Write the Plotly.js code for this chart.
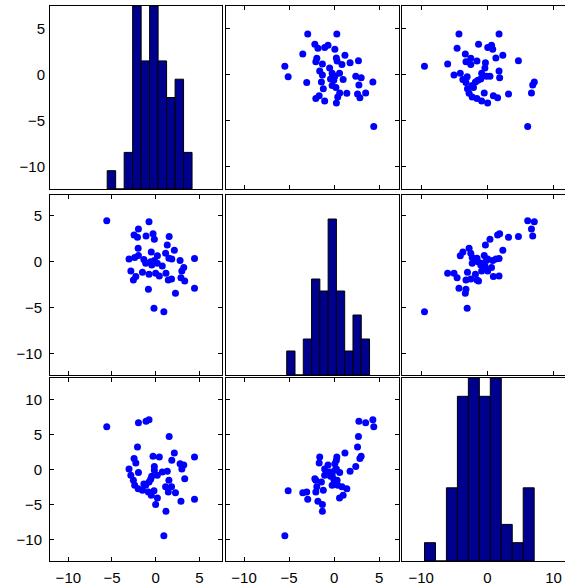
<!DOCTYPE html>
<html><head><meta charset="utf-8">
<script src="https://cdn.plot.ly/plotly-3.0.1.min.js"></script>
<style>html,body{margin:0;padding:0;overflow:hidden;background:#fff}</style>
</head><body><div id="chart" style="width:577px;height:587px"></div>
<script>
const x1 = [-5.6,-0.76,-1.97,-2.47,-2.08,-1.1,-0.3,-0.15,1.55,1.33,2.14,-2.0,-0.5,0.2,1.14,-3.05,-2.4,-1.97,1.52,1.85,2.8,4.45,-1.14,-0.57,-0.15,0.19,3.22,3.0,-2.84,-1.51,-0.76,0.0,0.42,1.18,-2.27,-2.55,1.45,1.82,2.9,3.33,-0.83,4.45,2.27,-0.19,0.94,0.76,-1.35,-0.45];
const x2 = [4.4,4.3,3.5,2.86,2.6,2.75,3.0,2.4,2.7,1.77,1.2,1.41,1.0,0.6,0.87,0.25,0.4,0.62,0.33,0.25,0.08,0.3,-0.22,-0.04,0.08,-0.22,-0.68,-1.05,-1.05,-1.2,-1.41,-1.3,-1.6,-1.3,-1.66,-2.03,-2.03,-1.92,-1.8,-2.14,-3.04,-2.93,-3.48,-5.1,-5.47,-0.5,0.2,-0.4];
const x3 = [6.1,7.1,6.67,1.55,3.2,6.86,1.86,0.4,4.7,-0.29,2.34,-2.76,-3.7,-4.09,-2.5,0.05,-2.29,-0.47,-1.57,1.29,0.81,1.77,-2.29,-1.43,-0.14,-0.86,0.63,0.06,-0.86,-3.0,-1.8,-5.04,1.77,-6.0,0.91,-1.57,-3.23,-2.5,-4.57,-1.33,-3.23,-4.29,-3.33,-3.05,-9.5,-0.37,-2.1,-1.0];

// histogram bin counts (10 bins each) and bin edges
const hist1Counts = [1,0,2,10,7,10,7,5,6,2];
const hist2Counts = [2,0,3,8,7,13,7,2,5,3];
const hist3Counts = [1,0,4,9,10,9,10,2,1,4];
const histStart = [-5.55, -5.26, -9.5];
const histBinWidth = [0.972, 0.919, 1.658];
const histMax = [10, 15, 10];

// tick labels
const ticksSmall = [-10,-5,0,5];
const ticksRow3 = [-10,-5,0,5,10];
const ticksCol3 = [-10,0,10];

// ---- layout geometry ----
const data = [x1, x2, x3];
const counts = [hist1Counts, hist2Counts, hist3Counts];
const colRange = [[-12.1, 7.6], [-12.0, 7.2], [-12.9, 13.1]];
const rowRange = [[-12.4, 7.5], [-12.35, 7.2], [-13.1, 13.05]];
const colDomain = [[0, 172/524], [176/524, 349/524], [352/524, 1]];
const rowDomain = [[(561-189)/555, 1], [(561-375)/555, (561-195)/555], [0, (561-378)/555]];
const xTicks = [ticksSmall, ticksSmall, ticksCol3];
const yTicks = [ticksSmall, ticksSmall, ticksRow3];

const font = {family: 'Liberation Sans, Arial, sans-serif', size: 15, color: '#000'};
const base = {
  showline: true, linecolor: '#000', linewidth: 1, mirror: 'ticks',
  ticks: 'inside', ticklen: 4, tickwidth: 1, tickcolor: '#000',
  showgrid: false, zeroline: false, tickfont: font, fixedrange: true,
  tickmode: 'array'
};

const traces = [];
const layout = {
  width: 577, height: 587,
  margin: {l: 50, r: 3, t: 6, b: 26},
  paper_bgcolor: '#fff', plot_bgcolor: '#fff',
  showlegend: false
};

for (let r = 0; r < 3; r++) {
  for (let c = 0; c < 3; c++) {
    const k = r * 3 + c + 1;
    const xn = k === 1 ? 'xaxis' : 'xaxis' + k;
    const yn = k === 1 ? 'yaxis' : 'yaxis' + k;
    const xr = k === 1 ? 'x' : 'x' + k;
    const yr = k === 1 ? 'y' : 'y' + k;
    const diag = r === c;
    layout[xn] = Object.assign({}, base, {
      domain: colDomain[c], anchor: yr, range: colRange[c],
      tickvals: xTicks[c], showticklabels: r === 2, ticklabelstandoff: 3
    });
    layout[yn] = Object.assign({}, base, {
      domain: rowDomain[r], anchor: xr,
      range: diag ? [0, histMax[r]] : rowRange[r],
      tickvals: yTicks[r], showticklabels: c === 0 && !diag, ticklabelstandoff: 4
    });
    if (diag) {
      layout[xn].ticks = ''; layout[xn].mirror = true;
      layout[yn].ticks = ''; layout[yn].mirror = true;
      layout[yn].showticklabels = false;
      const centers = counts[r].map((_, i) => histStart[r] + histBinWidth[r] * (i + 0.5));
      traces.push({
        type: 'bar', x: centers, y: counts[r], width: histBinWidth[r],
        xaxis: xr, yaxis: yr,
        marker: {color: '#00008f', line: {color: '#000', width: 1}},
        hoverinfo: 'skip'
      });
    } else {
      traces.push({
        type: 'scatter', mode: 'markers', x: data[c], y: data[r],
        xaxis: xr, yaxis: yr,
        marker: {color: '#0000ff', size: 7, line: {width: 0}},
        hoverinfo: 'skip'
      });
    }
  }
}
// labels on the left of the top-left histogram (scale of the first variable)
layout.yaxis10 = Object.assign({}, base, {
  overlaying: 'y', anchor: 'x', side: 'left', range: rowRange[0],
  tickvals: ticksSmall, ticks: '', showline: false, ticklabelstandoff: 4
});
traces.push({type: 'scatter', mode: 'markers', x: [null], y: [null], xaxis: 'x', yaxis: 'y10', hoverinfo: 'skip'});

Plotly.newPlot('chart', traces, layout, {displayModeBar: false, staticPlot: true});
</script></body></html>
